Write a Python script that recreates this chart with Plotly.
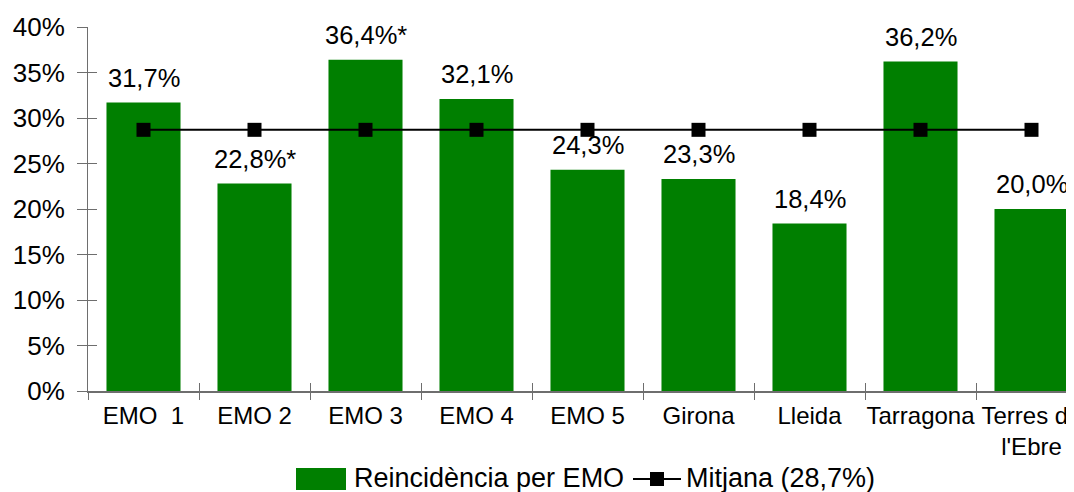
import plotly.graph_objects as go

categories = ["EMO \u00a01", "EMO 2", "EMO 3", "EMO 4", "EMO 5", "Girona", "Lleida", "Tarragona", "Terres de<br>l'Ebre"]
values = [31.7, 22.8, 36.4, 32.1, 24.3, 23.3, 18.4, 36.2, 20.0]
value_labels = ["31,7%", "22,8%*", "36,4%*", "32,1%", "24,3%", "23,3%", "18,4%", "36,2%", "20,0%"]
mean_value = 28.7
mean_label = "Mitjana (28,7%)"
bar_name = "Reincidència per EMO"
y_ticks = [0, 5, 10, 15, 20, 25, 30, 35, 40]
y_tick_labels = [f"{v}%" for v in y_ticks]

OFF = 8  # page body margin
W, H = 1074 - OFF, 492 - OFF
L, T = 88 - OFF, 27 - OFF
B = H - (391 - OFF)
R = 0
plot_w = W - L - R
plot_h = H - T - B
cat_w = 111.0
x_range = [-0.5, -0.5 + plot_w / cat_w]

GREEN = "#007f00"
AXIS = "#6e6e6e"
FONT = "Liberation Sans, Arial, sans-serif"

fig = go.Figure()
fig.add_trace(go.Bar(x=categories, y=values, marker=dict(color=GREEN, line=dict(width=0)),
                     width=0.667, showlegend=False, name=bar_name))
fig.add_trace(go.Scatter(x=categories, y=[mean_value] * len(categories), mode="lines+markers",
                         line=dict(color="black", width=2),
                         marker=dict(symbol="square", size=14, color="black"),
                         showlegend=False, name=mean_label))
# dummy trace for overlay axes (inner half of crossing ticks)
fig.add_trace(go.Scatter(x=[None], y=[None], xaxis="x2", yaxis="y2", showlegend=False, hoverinfo="skip"))

for c, v, t in zip(categories, values, value_labels):
    fig.add_annotation(x=c, y=v, text=t, showarrow=False, yanchor="bottom", yshift=9,
                       font=dict(size=25.5, color="black", family=FONT))

def px_x(p):  # page pixel -> paper
    return (p - OFF - L) / plot_w

def px_y(p):
    return (H - B - (p - OFF)) / plot_h

# manual legend
ly = 478
fig.add_shape(type="rect", xref="paper", yref="paper", x0=px_x(296), x1=px_x(346),
              y0=px_y(490), y1=px_y(468), fillcolor=GREEN, line=dict(width=0))
fig.add_annotation(xref="paper", yref="paper", x=px_x(352), y=px_y(ly), text=bar_name,
                   showarrow=False, xanchor="left", yanchor="middle",
                   font=dict(size=27, color="black", family=FONT))
fig.add_shape(type="line", xref="paper", yref="paper", x0=px_x(633), x1=px_x(681),
              y0=px_y(479), y1=px_y(479), line=dict(color="black", width=2))
fig.add_shape(type="rect", xref="paper", yref="paper", x0=px_x(650), x1=px_x(664),
              y0=px_y(486), y1=px_y(472), fillcolor="black", line=dict(width=0))
fig.add_annotation(xref="paper", yref="paper", x=px_x(684), y=px_y(ly), text=mean_label,
                   showarrow=False, xanchor="left", yanchor="middle",
                   font=dict(size=27, color="black", family=FONT))

fig.update_layout(
    width=W, height=H,
    margin=dict(l=L, r=R, t=T, b=B, pad=0, autoexpand=False),
    paper_bgcolor="white", plot_bgcolor="white",
    font=dict(family=FONT, color="black", size=24),
    bargap=0.333,
    xaxis=dict(type="category", range=x_range, showgrid=False, showline=True, linecolor=AXIS,
               linewidth=2, ticks="outside", tickson="boundaries", ticklen=7, tickcolor=AXIS,
               tickwidth=1, tickfont=dict(size=24), tickangle=0, automargin=False,
               ticklabelstandoff=2, fixedrange=True),
    yaxis=dict(range=[0, 40], tickvals=y_ticks, ticktext=y_tick_labels, showgrid=False,
               showline=True, linecolor=AXIS, linewidth=1, ticks="outside", ticklen=10,
               tickcolor=AXIS, tickwidth=1, tickfont=dict(size=26), ticklabelstandoff=7,
               automargin=False, zeroline=False, fixedrange=True),
    xaxis2=dict(overlaying="x", anchor="y2", side="bottom", range=x_range,
                tickvals=[i + 0.5 for i in range(-1, len(categories))], ticks="inside", ticklen=8,
                tickcolor=AXIS, showticklabels=False, showgrid=False, showline=False,
                zeroline=False, automargin=False),
    yaxis2=dict(overlaying="y", anchor="x2", side="left", range=[0, 40], tickvals=y_ticks,
                ticks="inside", ticklen=9, tickcolor=AXIS, showticklabels=False, showgrid=False,
                showline=False, zeroline=False, automargin=False),
)

fig.write_html("out.html")
